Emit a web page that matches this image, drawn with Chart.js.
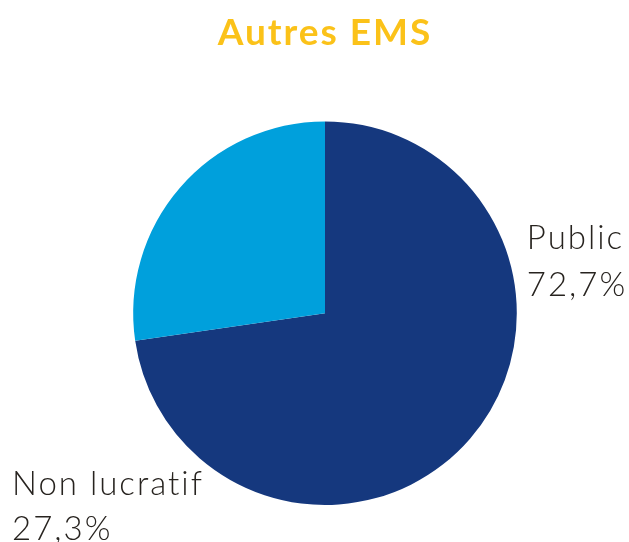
<!DOCTYPE html>
<html>
<head>
<meta charset="utf-8">
<script src="https://cdn.jsdelivr.net/npm/chart.js@4.4.1/dist/chart.umd.min.js"></script>
<style>
  html, body { margin: 0; padding: 0; background: #ffffff; }
  #wrap { width: 629px; height: 542px; }
</style>
</head>
<body>
<div id="wrap"><canvas id="emsChart" width="629" height="542"></canvas></div>
<script>
// Data
const categories = ['Public', 'Non lucratif'];
const shares = [72.7, 27.3];
const sliceColors = ['#15387e', '#00a0dc'];

const textColor = '#27231f';
const labelFont = '300 33px Lato, "Open Sans", sans-serif';

const fmtPct = (v) => v.toFixed(1).replace('.', ',') + '%';

// Slightly wider tracking for the title (reference font is wider than Lato)
const titleSpacing = {
    id: 'titleSpacing',
    beforeDraw(chart) { chart.ctx.letterSpacing = '2px'; },
    afterDraw(chart) { chart.ctx.letterSpacing = '0px'; }
};

// Outside labels: name on one line, percentage below
const sideLabels = {
    id: 'sideLabels',
    afterDatasetsDraw(chart) {
        const ctx = chart.ctx;
        const arcs = chart.getDatasetMeta(0).data;
        if (!arcs.length) return;
        const { x: cx, y: cy, outerRadius: r } = arcs[0];

        ctx.save();
        ctx.letterSpacing = '2px';
        ctx.font = labelFont;
        ctx.fillStyle = textColor;
        ctx.textAlign = 'left';
        ctx.textBaseline = 'alphabetic';

        // Public: right side of the pie
        ctx.fillText(categories[0], cx + r + 10, cy - 64);
        ctx.fillText(fmtPct(shares[0]), cx + r + 10, cy - 17);

        // Non lucratif: bottom left
        ctx.fillText(categories[1], 12, cy + 182);
        ctx.fillText(fmtPct(shares[1]), 12, cy + 227);
        ctx.restore();
    }
};

const ctx = document.getElementById('emsChart').getContext('2d');
new Chart(ctx, {
    type: 'pie',
    data: {
        labels: categories,
        datasets: [{
            data: shares,
            backgroundColor: sliceColors,
            borderWidth: 0
        }]
    },
    options: {
        responsive: false,
        animation: false,
        layout: {
            padding: { left: 133, right: 112, top: 0, bottom: 37 }
        },
        plugins: {
            legend: { display: false },
            tooltip: { enabled: false },
            title: {
                display: true,
                text: 'Autres EMS',
                color: '#fbc219',
                font: { family: 'Lato, "Open Sans", sans-serif', size: 37, weight: 'bold', lineHeight: 1.2 },
                padding: { top: 11, bottom: 66 }
            }
        }
    },
    plugins: [titleSpacing, sideLabels]
});
</script>
</body>
</html>
